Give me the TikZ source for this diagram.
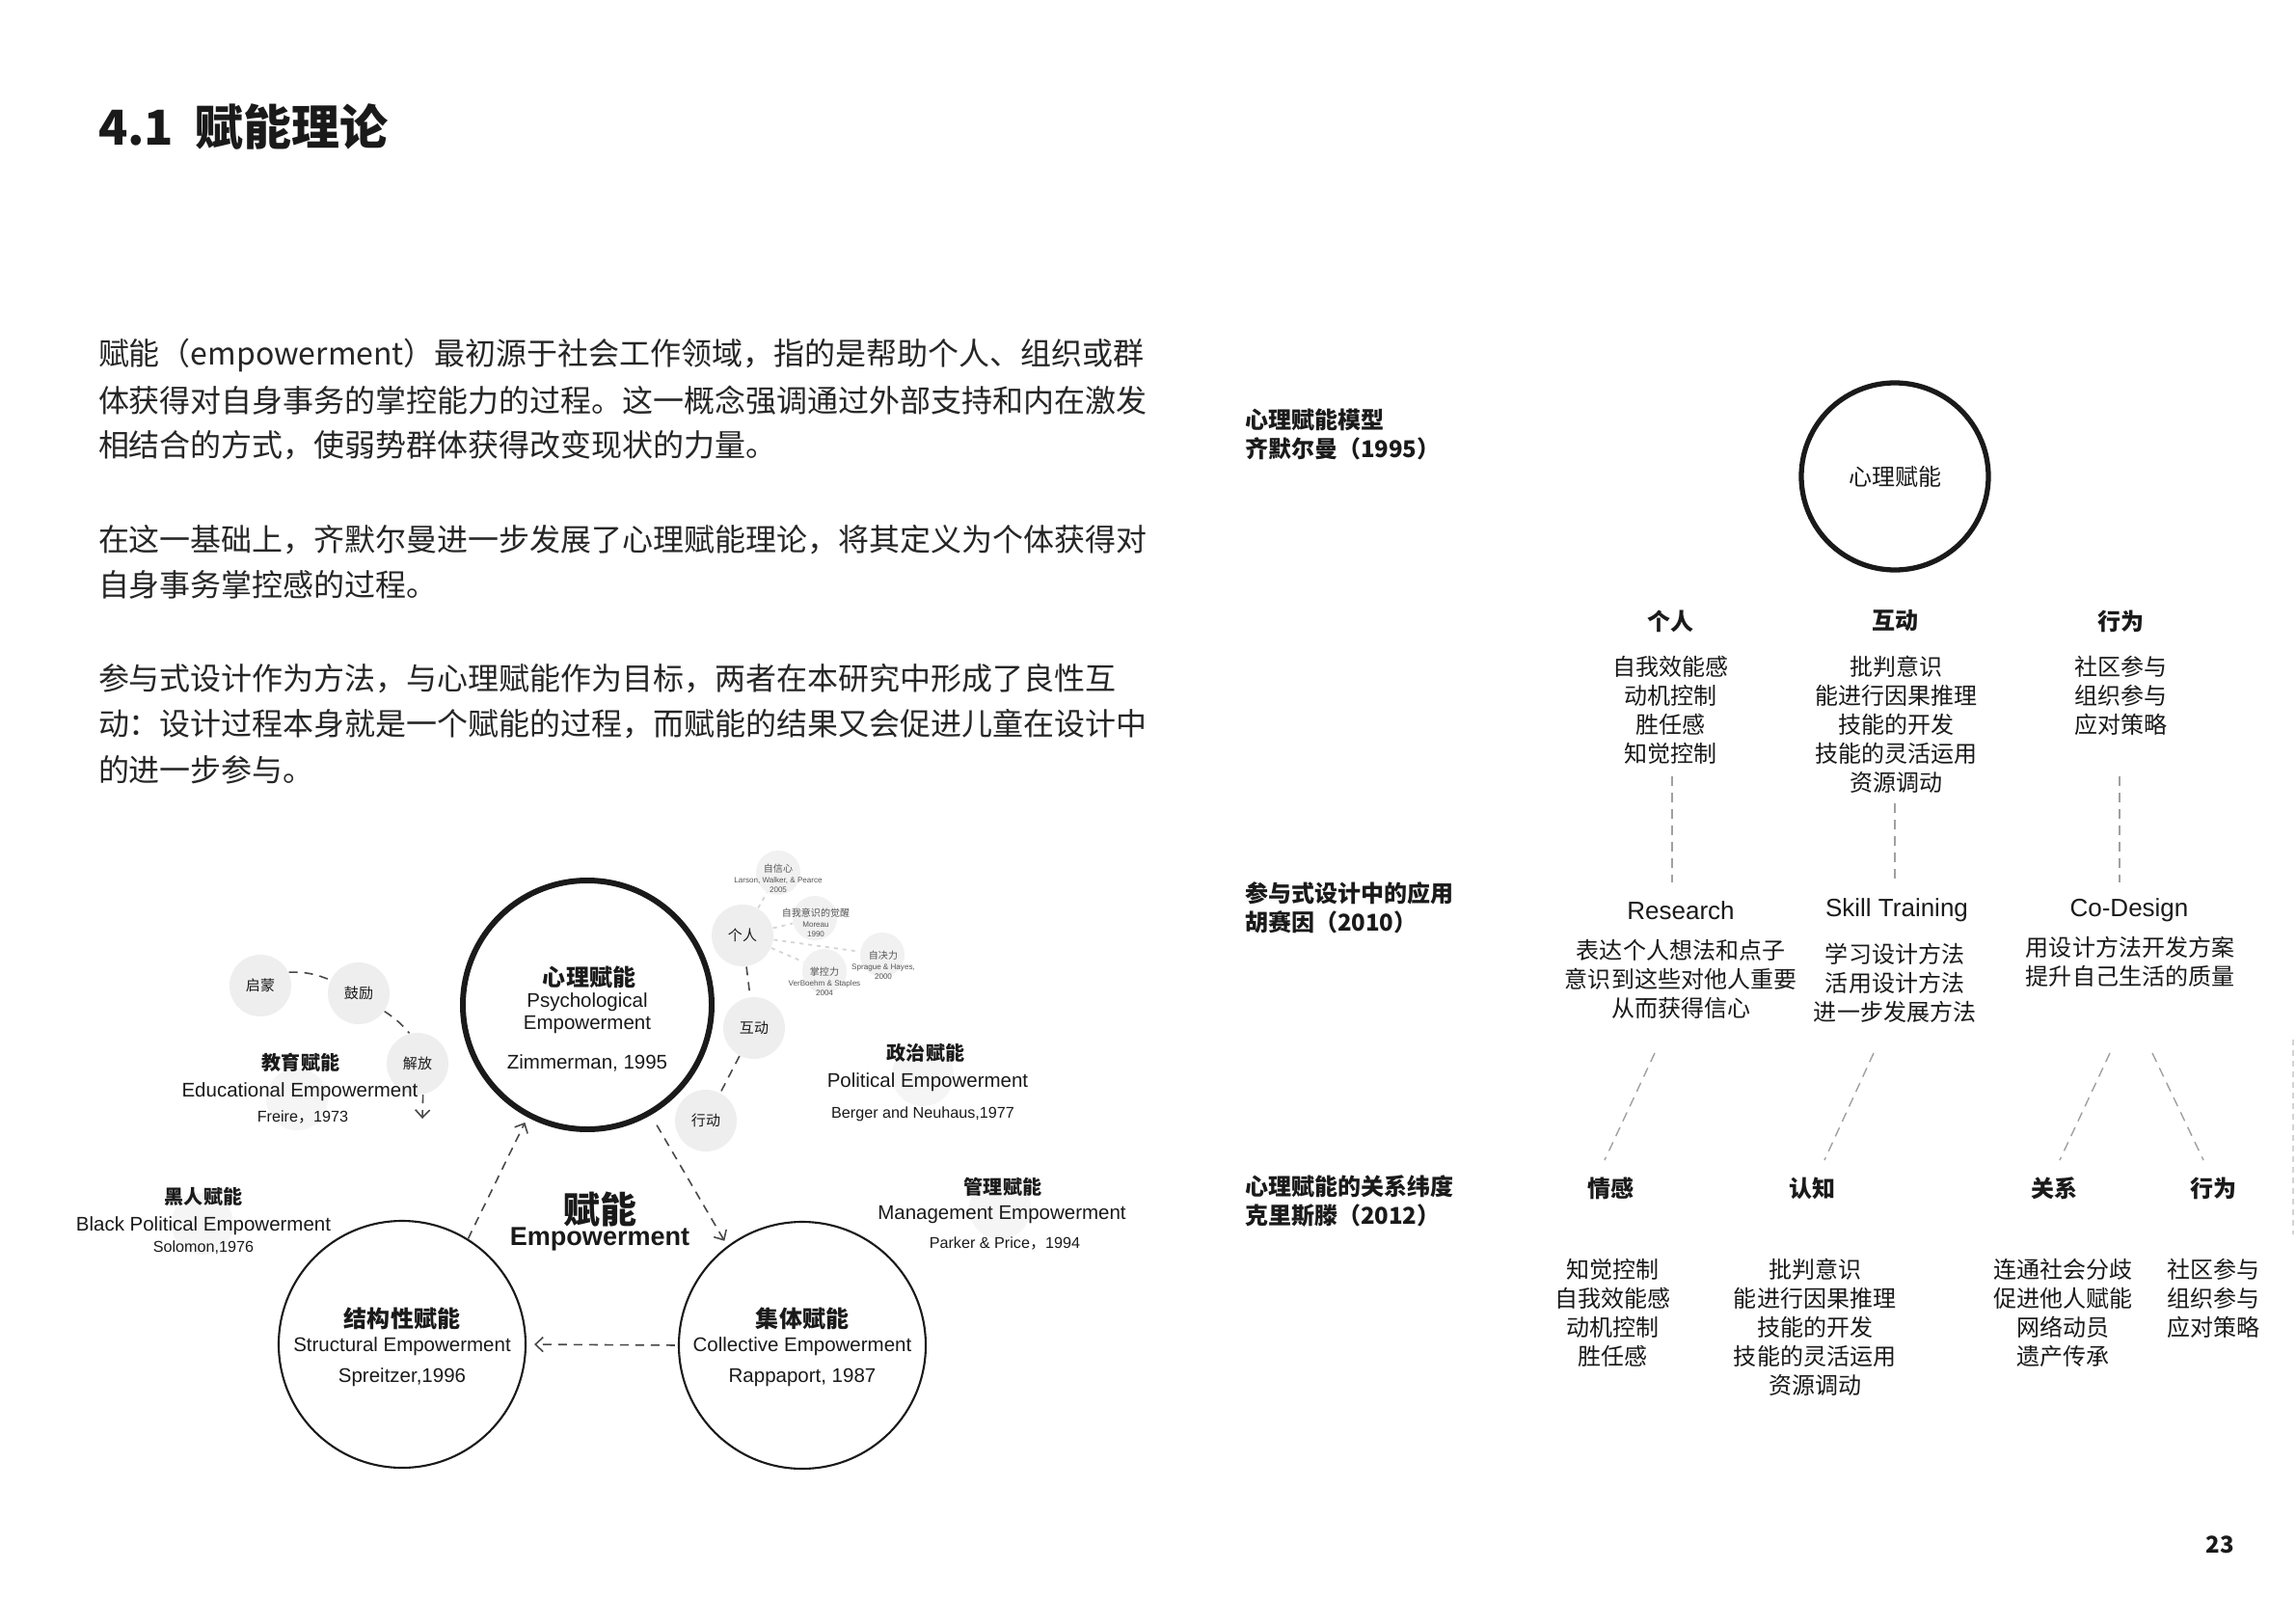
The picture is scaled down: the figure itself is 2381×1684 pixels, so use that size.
\documentclass[tikz,border=0pt]{standalone}
\usepackage{fontspec}
\setmainfont{Noto Sans CJK SC}
\newfontfamily\lat{Liberation Sans}
\usetikzlibrary{arrows.meta}
\definecolor{ink}{HTML}{1A1A1A}
\definecolor{bodyink}{HTML}{262626}
\definecolor{soft}{HTML}{EEEEEE}
\definecolor{subsoft}{HTML}{F1F1F1}
\definecolor{ghostfill}{HTML}{F5F5F5}
\definecolor{graytxt}{HTML}{555555}
\definecolor{dashgray}{HTML}{A0A0A0}
\definecolor{dotgray}{HTML}{D4D4D4}
\newcommand\fTitle{\fontsize{14.2pt}{17pt}\selectfont\bfseries}
\newcommand\fBody{\fontsize{9.1pt}{13.4pt}\selectfont}
\newcommand\fItem{\fontsize{6.83pt}{8.54pt}\selectfont}
\newcommand\fHead{\fontsize{6.83pt}{8.54pt}\selectfont\bfseries}
\newcommand\fLabC{\fontsize{5.7pt}{7pt}\selectfont\bfseries}
\newcommand\fLat{\lat\fontsize{5.83pt}{6.6pt}\selectfont}
\newcommand\fLatS{\lat\fontsize{4.6pt}{5.5pt}\selectfont}
\newcommand\fLatM{\lat\fontsize{7.4pt}{9pt}\selectfont}
\newcommand\fCirc{\fontsize{4.27pt}{5pt}\selectfont}
\newcommand\fTinyC{\rmfamily\fontsize{2.85pt}{3pt}\selectfont}
\newcommand\fTinyL{\lat\fontsize{2.3pt}{3pt}\selectfont}
\newcommand\fwc{{\rmfamily ，}}
\begin{document}
\begin{tikzpicture}[x=0.1mm,y=-0.1mm,
  t/.style={inner sep=0pt, outer sep=0pt, text=ink},
  gcirc/.style={circle, fill=soft, draw=none, minimum size=6.4mm, inner sep=0pt, text=ink, font=\fCirc},
  subcirc/.style={circle, fill=subsoft, draw=none, minimum size=4.6mm, inner sep=0pt},
  ghost/.style={circle, fill=ghostfill, draw=none, minimum size=6.4mm, inner sep=0pt},
  bigring/.style={circle, draw=ink, line width=1.7pt, minimum size=25.8mm, inner sep=0pt},
  ring/.style={circle, draw=ink, line width=0.6pt, minimum size=25.6mm, inner sep=0pt},
  rring/.style={circle, draw=ink, line width=1.5pt, minimum size=19.4mm, inner sep=0pt},
  conn/.style={draw=ink!80, line width=0.45pt, dash pattern=on 0.9mm off 0.7mm},
  arr/.style={-{Straight Barb[length=0.8mm,width=1.5mm]}},
  dotl/.style={draw=dotgray, line width=0.5pt, dash pattern=on 0.4mm off 0.5mm},
  gdash/.style={draw=dashgray, line width=0.4pt, dash pattern=on 1mm off 0.7mm},
  col/.style={t, font=\fItem, align=center},
  hd/.style={t, font=\fHead},
]
\fill[white] (0,0) rectangle (2381,1684);
\useasboundingbox (0,0) rectangle (2381,1684);

% ---------- title and body ----------
\node[t, anchor=west, font=\fTitle] (title) at (102,131) {4.1\hspace{0.45em}赋能理论};
\begin{scope}[every node/.style={t, anchor=west, font=\fBody, text=bodyink}]
\node (p1a) at (102,368) {赋能（empowerment）最初源于社会工作领域，指的是帮助个人、组织或群};
\node (p1b) at (102,415) {体获得对自身事务的掌控能力的过程。这一概念强调通过外部支持和内在激发};
\node (p1c) at (102,462) {相结合的方式，使弱势群体获得改变现状的力量。};
\node (p2a) at (102,560) {在这一基础上，齐默尔曼进一步发展了心理赋能理论，将其定义为个体获得对};
\node (p2b) at (102,606) {自身事务掌控感的过程。};
\node (p3a) at (102,704) {参与式设计作为方法，与心理赋能作为目标，两者在本研究中形成了良性互};
\node (p3b) at (102,751) {动：设计过程本身就是一个赋能的过程，而赋能的结果又会促进儿童在设计中};
\node (p3c) at (102,798) {的进一步参与。};
\end{scope}

% ---------- left diagram ----------
\node[ghost] (ghEdu) at (308,1140) {};
\node[ghost] (ghPol) at (957,1115) {};
\node[ghost] (ghMgmt) at (1037,1253) {};
\node[ghost] (ghBlack) at (210,1269) {};

\node[bigring] (psych) at (609,1042) {};
\node[ring] (struct) at (417,1394) {};
\node[ring] (coll) at (832,1395) {};

\node[gcirc] (geren) at (770,970) {个人};
\node[gcirc] (hudong) at (782,1066) {互动};
\node[gcirc] (xingdong) at (732,1162) {行动};
\node[gcirc] (qimeng) at (270,1022) {启蒙};
\node[gcirc] (guli) at (372,1030) {鼓励};
\node[gcirc] (jiefang) at (433,1103) {解放};

\node[subcirc] (zixin) at (807,905) {};
\node[subcirc] (ziwo) at (845,952) {};
\node[subcirc] (zijue) at (915,990) {};
\node[subcirc] (zhangkong) at (855,1007) {};

\draw[dotl] (geren) -- (zixin);
\draw[dotl] (geren) -- (ziwo);
\draw[dotl] (geren) -- (zijue);
\draw[dotl] (geren) -- (zhangkong);

\begin{scope}[every node/.style={t, align=center, font=\fTinyL, text=graytxt}]
\node (zixinT) at (807,911) {{\fTinyC 自信心}\\Larson, Walker, \& Pearce\\2005};
\node (ziwoT) at (846,957) {{\fTinyC 自我意识的觉醒}\\Moreau\\1990};
\node (zijueT) at (916,1001) {{\fTinyC 自决力}\\Sprague \& Hayes,\\2000};
\node (zhangkongT) at (855,1018) {{\fTinyC 掌控力}\\VerBoehm \& Staples\\2004};
\end{scope}

\draw[conn] (geren) -- (hudong);
\draw[conn] (hudong) -- (xingdong);
\draw[conn] (qimeng.25) to[bend left=12] (guli.155);
\draw[conn] (guli.-35) to[bend left=8] (jiefang.105);
\coordinate (eduend) at (438,1160);
\draw[conn,arr] (jiefang.-80) -- (eduend);

\draw[conn,arr,shorten >=0.6mm] (struct.58) -- (psych.242);
\draw[conn,arr,shorten <=1.2mm,shorten >=0.6mm] (psych.-60) -- (coll.127);
\draw[conn,arr,shorten <=0.3mm,shorten >=0.8mm] (coll.west) -- (struct.east);

% texts in rings
\node[t, font=\fHead] (psyT1) at (611,1013) {心理赋能};
\node[t, font=\fLat, align=center] (psyT2) at (609,1051) {Psychological\\Empowerment};
\node[t, font=\fLat] (psyT3) at (609,1102) {Zimmerman, 1995};

\node[t, font=\fHead] (strT1) at (417,1367) {结构性赋能};
\node[t, font=\fLat] (strT2) at (417,1396) {Structural Empowerment};
\node[t, font=\fLat] (strT3) at (417,1428) {Spreitzer,1996};

\node[t, font=\fHead] (colT1) at (832,1367) {集体赋能};
\node[t, font=\fLat] (colT2) at (832,1396) {Collective Empowerment};
\node[t, font=\fLat] (colT3) at (832,1428) {Rappaport, 1987};

\node[t, font=\fontsize{10.8pt}{12pt}\selectfont\bfseries] (cenT1) at (622,1254) {赋能};
\node[t, font=\lat\fontsize{7.7pt}{9pt}\selectfont\bfseries] (cenT2) at (622,1285) {Empowerment};

% outer labels
\node[t, font=\fLabC] (eduT1) at (312,1102) {教育赋能};
\node[t, font=\fLat] (eduT2) at (311,1132) {Educational Empowerment};
\node[t, font=\fLatS] (eduT3) at (314,1159) {Freire\fwc 1973};

\node[t, font=\fLabC] (polT1) at (960,1092) {政治赋能};
\node[t, font=\fLat] (polT2) at (962,1122) {Political Empowerment};
\node[t, font=\fLatS] (polT3) at (957,1155) {Berger and Neuhaus,1977};

\node[t, font=\fLabC] (mgT1) at (1040,1231) {管理赋能};
\node[t, font=\fLat] (mgT2) at (1039,1260) {Management Empowerment};
\node[t, font=\fLatS] (mgT3) at (1042,1289) {Parker \& Price\fwc 1994};

\node[t, font=\fLabC] (blT1) at (211,1241) {黑人赋能};
\node[t, font=\fLat] (blT2) at (211,1271) {Black Political Empowerment};
\node[t, font=\fLatS] (blT3) at (211,1294) {Solomon,1976};

% ---------- right diagram ----------
\node[t, font=\fHead, anchor=west, align=left] (lab1) at (1291,450) {心理赋能模型\\齐默尔曼（1995）};
\node[t, font=\fHead, anchor=west, align=left] (lab2) at (1291,941) {参与式设计中的应用\\胡赛因（2010）};
\node[t, font=\fHead, anchor=west, align=left] (lab3) at (1291,1246) {心理赋能的关系纬度\\克里斯滕（2012）};

\node[rring] (rcirc) at (1965,494) {};
\node[t, font=\fItem] (rcircT) at (1965,494) {心理赋能};

\node[hd] (h1) at (1732,644) {个人};
\node[hd] (h2) at (1965,644) {互动};
\node[hd] (h3) at (2199,644) {行为};

\node[col] (c1) at (1732,736) {自我效能感\\动机控制\\胜任感\\知觉控制};
\node[col] (c2) at (1966,751) {批判意识\\能进行因果推理\\技能的开发\\技能的灵活运用\\资源调动};
\node[col] (c3) at (2199,721) {社区参与\\组织参与\\应对策略};

\coordinate (v1a) at (1734,805); \coordinate (v1b) at (1734,915);
\coordinate (v2a) at (1965,833); \coordinate (v2b) at (1965,915);
\coordinate (v3a) at (2198,805); \coordinate (v3b) at (2198,915);
\draw[gdash] (v1a) -- (v1b);
\draw[gdash] (v2a) -- (v2b);
\draw[gdash] (v3a) -- (v3b);

\node[t, font=\fLatM] (m1) at (1743,944) {Research};
\node[t, font=\fLatM] (m2) at (1967,944) {Skill Training};
\node[t, font=\fLatM] (m3) at (2208,944) {Co-Design};

\node[col] (r1) at (1743,1015) {表达个人想法和点子\\意识到这些对他人重要\\从而获得信心};
\node[col] (r2) at (1965,1019) {学习设计方法\\活用设计方法\\进一步发展方法};
\node[col] (r3) at (2209,997) {用设计方法开发方案\\提升自己生活的质量};

\coordinate (d1a) at (1716,1092); \coordinate (d1b) at (1664,1203);
\coordinate (d2a) at (1943,1092); \coordinate (d2b) at (1892,1203);
\coordinate (d3a) at (2188,1092); \coordinate (d3b) at (2136,1203);
\coordinate (d4a) at (2232,1092); \coordinate (d4b) at (2285,1203);
\draw[gdash] (d1a) -- (d1b);
\draw[gdash] (d2a) -- (d2b);
\draw[gdash] (d3a) -- (d3b);
\draw[gdash] (d4a) -- (d4b);

\node[hd] (k1h) at (1670,1232) {情感};
\node[hd] (k2h) at (1879,1232) {认知};
\node[hd] (k3h) at (2130,1232) {关系};
\node[hd] (k4h) at (2295,1232) {行为};

\node[col] (k1) at (1672,1361) {知觉控制\\自我效能感\\动机控制\\胜任感};
\node[col] (k2) at (1882,1376) {批判意识\\能进行因果推理\\技能的开发\\技能的灵活运用\\资源调动};
\node[col] (k3) at (2139,1361) {连通社会分歧\\促进他人赋能\\网络动员\\遗产传承};
\node[col] (k4) at (2295,1346) {社区参与\\组织参与\\应对策略};

\coordinate (ea) at (2378,1078); \coordinate (eb) at (2378,1280);
\draw[draw=dotgray, line width=0.4pt, dash pattern=on 0.6mm off 0.5mm] (ea) -- (eb);

\node[t, font=\fHead] (pnum) at (2302,1602) {23};
\end{tikzpicture}
\end{document}
